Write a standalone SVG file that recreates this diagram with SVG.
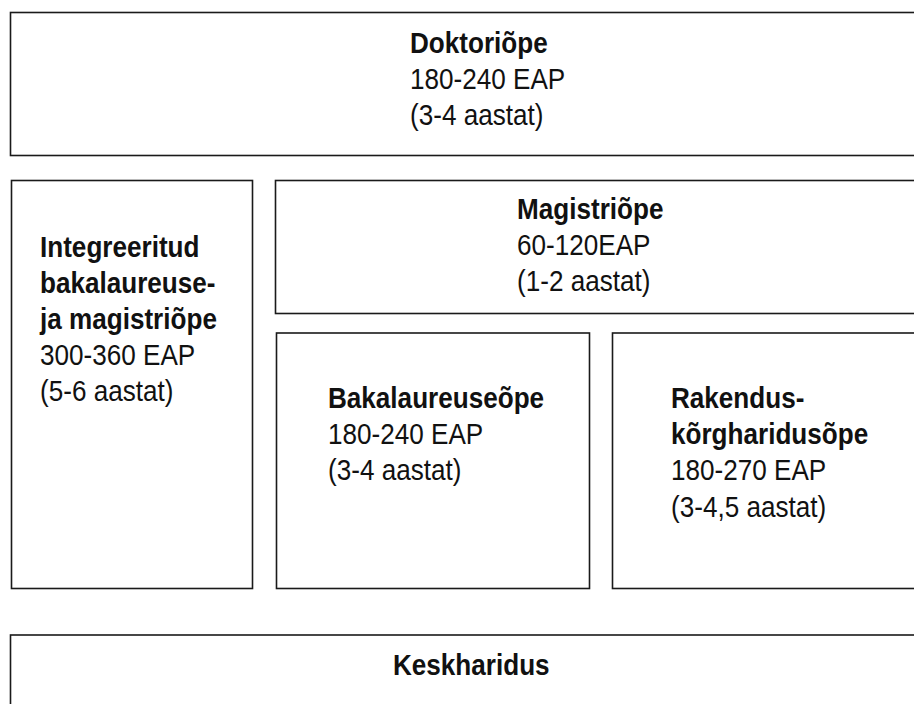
<svg xmlns="http://www.w3.org/2000/svg" width="914" height="704" viewBox="0 0 914 704">
<style>
.box{fill:#fff;stroke:#1a1a1a;stroke-width:1.6}
text{font-family:"Liberation Sans",Arial,sans-serif;font-size:29px;fill:#111}
.b{font-weight:bold}
</style>
<rect width="914" height="704" fill="#fff"/>
<g id="doktori">
<rect class="box" x="10.5" y="12.5" width="940" height="143"/>
<text transform="translate(410,52.5) scale(0.9,1)"><tspan class="b" x="0" y="0">Doktoriõpe</tspan><tspan x="0" y="36.5">180-240 EAP</tspan><tspan x="0" y="73">(3-4 aastat)</tspan></text>
</g>
<g id="integreeritud">
<rect class="box" x="11.5" y="180.5" width="241" height="408"/>
<text transform="translate(40,256.5) scale(0.9,1)"><tspan class="b" x="0" y="0">Integreeritud</tspan><tspan class="b" x="0" y="36.5">bakalaureuse-</tspan><tspan class="b" x="0" y="73">ja magistriõpe</tspan><tspan x="0" y="109">300-360 EAP</tspan><tspan x="0" y="145">(5-6 aastat)</tspan></text>
</g>
<g id="magistri">
<rect class="box" x="275.5" y="180.5" width="680" height="133"/>
<text transform="translate(517,218.5) scale(0.9,1)"><tspan class="b" x="0" y="0">Magistriõpe</tspan><tspan x="0" y="36.5">60-120EAP</tspan><tspan x="0" y="73">(1-2 aastat)</tspan></text>
</g>
<g id="bakalaureuse">
<rect class="box" x="276.5" y="333" width="313" height="255.5"/>
<text transform="translate(328,407.5) scale(0.9,1)"><tspan class="b" x="0" y="0">Bakalaureuseõpe</tspan><tspan x="0" y="36.5">180-240 EAP</tspan><tspan x="0" y="73">(3-4 aastat)</tspan></text>
</g>
<g id="rakendus">
<rect class="box" x="612.5" y="333" width="340" height="255.5"/>
<text transform="translate(671,407.5) scale(0.9,1)"><tspan class="b" x="0" y="0">Rakendus-</tspan><tspan class="b" x="0" y="36.5">kõrgharidusõpe</tspan><tspan x="0" y="73">180-270 EAP</tspan><tspan x="0" y="109.5">(3-4,5 aastat)</tspan></text>
</g>
<g id="keskharidus">
<rect class="box" x="10.5" y="635" width="940" height="100"/>
<text transform="translate(393,675) scale(0.9,1)" class="b">Keskharidus</text>
</g>
<g id="connectors"></g>
</svg>
